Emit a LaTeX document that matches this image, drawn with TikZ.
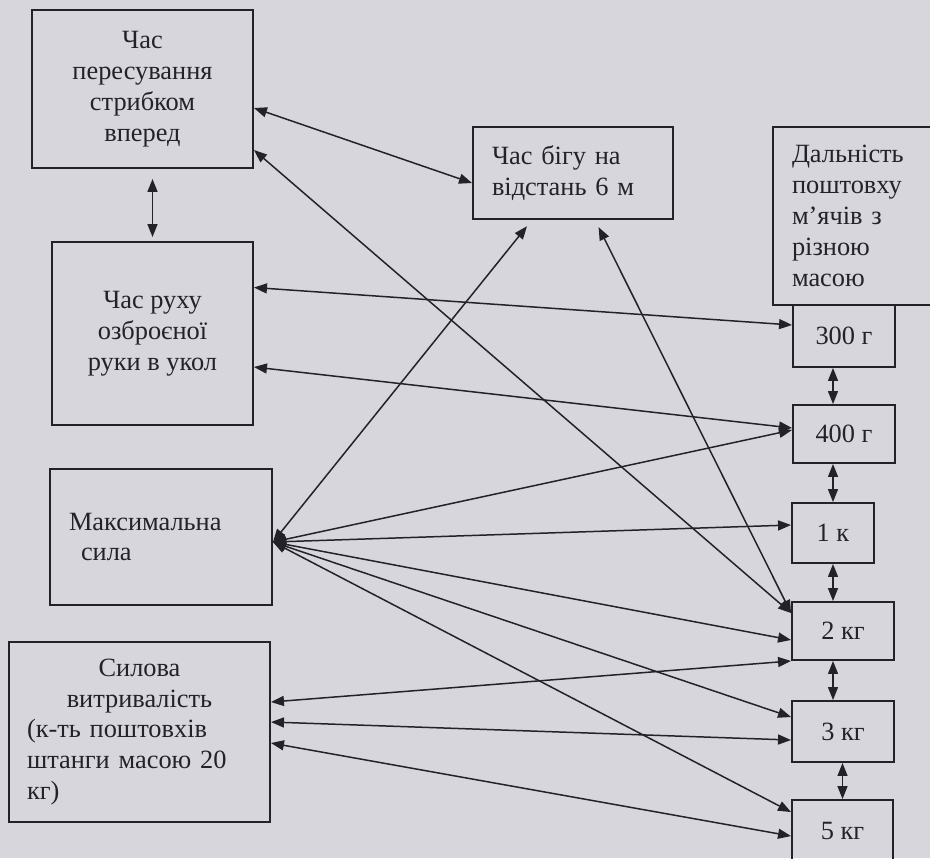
\documentclass[tikz,border=0pt]{standalone}
\usepackage{fontspec}
\setmainfont{Liberation Serif}
\definecolor{scanbg}{RGB}{214,214,220}
\definecolor{inkgray}{RGB}{34,34,40}
\usetikzlibrary{arrows.meta}

\begin{document}
\begin{tikzpicture}[
  testbox/.style={draw=inkgray,line width=1.1pt,align=center,inner sep=0pt,
    font=\fontsize{15}{17.6}\selectfont,text=inkgray},
  leftbox/.style={testbox,align=left,inner xsep=0.38cm},
  massbox/.style={testbox,minimum width=2.04cm},
  link/.style={inkgray,line width=0.85pt,>={Triangle[length=0.26cm,width=0.2cm]},<->}
]
  \useasboundingbox (0,0) rectangle (18.6,-17.16);
  \fill[scanbg] (0,0) rectangle (18.6,-17.16);
  % Left column: motor tests
  \node[testbox,minimum width=4.42cm,minimum height=3.16cm] (jump) at (2.85,-1.78)
    {Час\\пересування\\стрибком\\вперед};
  \node[testbox,minimum width=4.02cm,minimum height=3.66cm] (lunge) at (3.05,-6.67)
    {Час руху\\озброєної\\руки в укол};
  \node[leftbox,text width=3.68cm,minimum height=2.72cm] (maxf) at (3.22,-10.74)
    {Максимальна\\\hspace*{0.24cm}сила};
  \node[leftbox,inner xsep=0.36cm,text width=4.5cm,minimum height=3.6cm] (endur) at (2.79,-14.64)
    {\makebox[\linewidth]{Силова}\\\makebox[\linewidth]{витривалість}\\
     (к-ть поштовхів\\штанги масою 20\\кг)};
  % Run test
  \node[leftbox,text width=3.24cm,minimum height=1.84cm] (run) at (11.46,-3.46)
    {Час бігу на\\відстань 6 м};
  % Right column: ball put distance
  \node[leftbox,text width=2.68cm,minimum height=3.56cm] (put) at (17.18,-4.32)
    {Дальність\\поштовху\\м’ячів з\\різною\\масою};
  \node[massbox,minimum height=1.24cm] (g300) at (16.88,-6.72) {300 г};
  \node[massbox,minimum height=1.16cm] (g400) at (16.88,-8.68) {400 г};
  \node[testbox,minimum width=1.64cm,minimum height=1.2cm] (k1) at (16.66,-10.66) {1 к};
  \node[massbox,minimum height=1.16cm] (k2) at (16.86,-12.62) {2 кг};
  \node[massbox,minimum height=1.22cm] (k3) at (16.86,-14.63) {3 кг};
  \node[testbox,minimum width=2.02cm,minimum height=1.24cm] (k5) at (16.85,-16.62) {5 кг};
  \coordinate (mtip) at ([yshift=-0.1cm]maxf.east);
  % Links between tests
  \draw[link,shorten <=0.2cm,shorten >=0.08cm] (jump.south -| lunge.north) -- (lunge.north);
  \draw[link] ([yshift=-0.38cm]jump.east) -- ([yshift=-0.2cm]run.west);
  \draw[link] ([yshift=-1.22cm]jump.east) -- ([yshift=0.36cm]k2.west);
  \draw[link,shorten <=0.16cm] ([xshift=0.44cm]run.south) -- ([yshift=0.36cm]k2.west);
  \draw[link,shorten <=0.16cm] ([xshift=-0.82cm]run.south) -- (mtip);
  \draw[link] ([yshift=0.92cm]lunge.east) -- ([yshift=0.22cm]g300.west);
  \draw[link] ([yshift=-0.67cm]lunge.east) -- ([yshift=0.12cm]g400.west);
  \draw[link] (mtip) -- ([yshift=0.08cm]g400.west);
  \draw[link] (mtip) -- ([yshift=0.16cm]k1.west);
  \draw[link] (mtip) -- ([yshift=-0.18cm]k2.west);
  \draw[link] (mtip) -- ([yshift=0.29cm]k3.west);
  \draw[link] (mtip) -- ([yshift=-0.26cm]k5.north west);
  \draw[link] ([yshift=0.6cm]endur.east) -- (k2.south west);
  \draw[link] ([yshift=0.2cm]endur.east) -- ([yshift=-0.17cm]k3.west);
  \draw[link] ([yshift=-0.22cm]endur.east) -- ([yshift=-0.74cm]k5.north west);
  % Links along the mass column
  \draw[link] (g300.south -| k1.north) -- (g400.north -| k1.north);
  \draw[link] (g400.south -| k1.north) -- (k1.north);
  \draw[link] (k1.south) -- (k2.north -| k1.south);
  \draw[link] (k2.south -| k1.south) -- (k3.north -| k1.south);
  \draw[link] (k3.south -| k5.north) -- (k5.north);
\end{tikzpicture}
\end{document}
